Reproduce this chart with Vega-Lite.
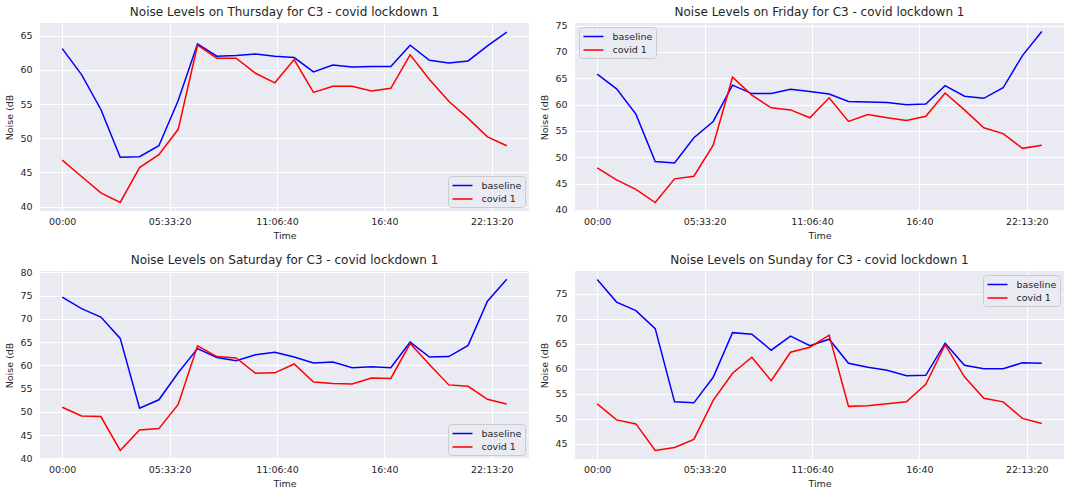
{
  "$schema": "https://vega.github.io/schema/vega-lite/v6.json",
  "background": "white",
  "padding": {"left": 4, "top": 5, "right": 5, "bottom": 4},
  "data": {
    "values": [
      {"day": "Thursday", "t": 0, "series": "baseline", "noise": 63.1},
      {"day": "Thursday", "t": 3600, "series": "baseline", "noise": 59.3},
      {"day": "Thursday", "t": 7200, "series": "baseline", "noise": 54.2},
      {"day": "Thursday", "t": 10800, "series": "baseline", "noise": 47.2},
      {"day": "Thursday", "t": 14400, "series": "baseline", "noise": 47.3},
      {"day": "Thursday", "t": 18000, "series": "baseline", "noise": 48.9},
      {"day": "Thursday", "t": 21600, "series": "baseline", "noise": 55.5},
      {"day": "Thursday", "t": 25200, "series": "baseline", "noise": 63.8},
      {"day": "Thursday", "t": 28800, "series": "baseline", "noise": 62.0},
      {"day": "Thursday", "t": 32400, "series": "baseline", "noise": 62.1},
      {"day": "Thursday", "t": 36000, "series": "baseline", "noise": 62.3},
      {"day": "Thursday", "t": 39600, "series": "baseline", "noise": 62.0},
      {"day": "Thursday", "t": 43200, "series": "baseline", "noise": 61.8},
      {"day": "Thursday", "t": 46800, "series": "baseline", "noise": 59.7},
      {"day": "Thursday", "t": 50400, "series": "baseline", "noise": 60.7},
      {"day": "Thursday", "t": 54000, "series": "baseline", "noise": 60.4},
      {"day": "Thursday", "t": 57600, "series": "baseline", "noise": 60.5},
      {"day": "Thursday", "t": 61200, "series": "baseline", "noise": 60.5},
      {"day": "Thursday", "t": 64800, "series": "baseline", "noise": 63.6},
      {"day": "Thursday", "t": 68400, "series": "baseline", "noise": 61.4},
      {"day": "Thursday", "t": 72000, "series": "baseline", "noise": 61.0},
      {"day": "Thursday", "t": 75600, "series": "baseline", "noise": 61.3},
      {"day": "Thursday", "t": 79200, "series": "baseline", "noise": 63.5},
      {"day": "Thursday", "t": 82800, "series": "baseline", "noise": 65.5},
      {"day": "Thursday", "t": 0, "series": "covid 1", "noise": 46.8},
      {"day": "Thursday", "t": 3600, "series": "covid 1", "noise": 44.4},
      {"day": "Thursday", "t": 7200, "series": "covid 1", "noise": 42.0},
      {"day": "Thursday", "t": 10800, "series": "covid 1", "noise": 40.6},
      {"day": "Thursday", "t": 14400, "series": "covid 1", "noise": 45.7},
      {"day": "Thursday", "t": 18000, "series": "covid 1", "noise": 47.6},
      {"day": "Thursday", "t": 21600, "series": "covid 1", "noise": 51.3},
      {"day": "Thursday", "t": 25200, "series": "covid 1", "noise": 63.6},
      {"day": "Thursday", "t": 28800, "series": "covid 1", "noise": 61.7},
      {"day": "Thursday", "t": 32400, "series": "covid 1", "noise": 61.7},
      {"day": "Thursday", "t": 36000, "series": "covid 1", "noise": 59.5},
      {"day": "Thursday", "t": 39600, "series": "covid 1", "noise": 58.1},
      {"day": "Thursday", "t": 43200, "series": "covid 1", "noise": 61.5},
      {"day": "Thursday", "t": 46800, "series": "covid 1", "noise": 56.7},
      {"day": "Thursday", "t": 50400, "series": "covid 1", "noise": 57.6},
      {"day": "Thursday", "t": 54000, "series": "covid 1", "noise": 57.6},
      {"day": "Thursday", "t": 57600, "series": "covid 1", "noise": 56.9},
      {"day": "Thursday", "t": 61200, "series": "covid 1", "noise": 57.3},
      {"day": "Thursday", "t": 64800, "series": "covid 1", "noise": 62.2},
      {"day": "Thursday", "t": 68400, "series": "covid 1", "noise": 58.6},
      {"day": "Thursday", "t": 72000, "series": "covid 1", "noise": 55.4},
      {"day": "Thursday", "t": 75600, "series": "covid 1", "noise": 52.9},
      {"day": "Thursday", "t": 79200, "series": "covid 1", "noise": 50.2},
      {"day": "Thursday", "t": 82800, "series": "covid 1", "noise": 48.9},
      {"day": "Friday", "t": 0, "series": "baseline", "noise": 65.8},
      {"day": "Friday", "t": 3600, "series": "baseline", "noise": 63.0},
      {"day": "Friday", "t": 7200, "series": "baseline", "noise": 58.2},
      {"day": "Friday", "t": 10800, "series": "baseline", "noise": 49.2},
      {"day": "Friday", "t": 14400, "series": "baseline", "noise": 48.9},
      {"day": "Friday", "t": 18000, "series": "baseline", "noise": 53.7},
      {"day": "Friday", "t": 21600, "series": "baseline", "noise": 56.8},
      {"day": "Friday", "t": 25200, "series": "baseline", "noise": 63.7},
      {"day": "Friday", "t": 28800, "series": "baseline", "noise": 62.1},
      {"day": "Friday", "t": 32400, "series": "baseline", "noise": 62.1},
      {"day": "Friday", "t": 36000, "series": "baseline", "noise": 62.9},
      {"day": "Friday", "t": 39600, "series": "baseline", "noise": 62.5},
      {"day": "Friday", "t": 43200, "series": "baseline", "noise": 62.0},
      {"day": "Friday", "t": 46800, "series": "baseline", "noise": 60.6},
      {"day": "Friday", "t": 50400, "series": "baseline", "noise": 60.5},
      {"day": "Friday", "t": 54000, "series": "baseline", "noise": 60.4},
      {"day": "Friday", "t": 57600, "series": "baseline", "noise": 60.0},
      {"day": "Friday", "t": 61200, "series": "baseline", "noise": 60.1},
      {"day": "Friday", "t": 64800, "series": "baseline", "noise": 63.6},
      {"day": "Friday", "t": 68400, "series": "baseline", "noise": 61.6},
      {"day": "Friday", "t": 72000, "series": "baseline", "noise": 61.2},
      {"day": "Friday", "t": 75600, "series": "baseline", "noise": 63.2},
      {"day": "Friday", "t": 79200, "series": "baseline", "noise": 69.3},
      {"day": "Friday", "t": 82800, "series": "baseline", "noise": 73.9},
      {"day": "Friday", "t": 0, "series": "covid 1", "noise": 48.0},
      {"day": "Friday", "t": 3600, "series": "covid 1", "noise": 45.7},
      {"day": "Friday", "t": 7200, "series": "covid 1", "noise": 43.9},
      {"day": "Friday", "t": 10800, "series": "covid 1", "noise": 41.4},
      {"day": "Friday", "t": 14400, "series": "covid 1", "noise": 45.9},
      {"day": "Friday", "t": 18000, "series": "covid 1", "noise": 46.4},
      {"day": "Friday", "t": 21600, "series": "covid 1", "noise": 52.3},
      {"day": "Friday", "t": 25200, "series": "covid 1", "noise": 65.2},
      {"day": "Friday", "t": 28800, "series": "covid 1", "noise": 61.8},
      {"day": "Friday", "t": 32400, "series": "covid 1", "noise": 59.4},
      {"day": "Friday", "t": 36000, "series": "covid 1", "noise": 59.0},
      {"day": "Friday", "t": 39600, "series": "covid 1", "noise": 57.5},
      {"day": "Friday", "t": 43200, "series": "covid 1", "noise": 61.3},
      {"day": "Friday", "t": 46800, "series": "covid 1", "noise": 56.8},
      {"day": "Friday", "t": 50400, "series": "covid 1", "noise": 58.1},
      {"day": "Friday", "t": 54000, "series": "covid 1", "noise": 57.5},
      {"day": "Friday", "t": 57600, "series": "covid 1", "noise": 57.0},
      {"day": "Friday", "t": 61200, "series": "covid 1", "noise": 57.8},
      {"day": "Friday", "t": 64800, "series": "covid 1", "noise": 62.2},
      {"day": "Friday", "t": 68400, "series": "covid 1", "noise": 59.0},
      {"day": "Friday", "t": 72000, "series": "covid 1", "noise": 55.6},
      {"day": "Friday", "t": 75600, "series": "covid 1", "noise": 54.5},
      {"day": "Friday", "t": 79200, "series": "covid 1", "noise": 51.7},
      {"day": "Friday", "t": 82800, "series": "covid 1", "noise": 52.3},
      {"day": "Saturday", "t": 0, "series": "baseline", "noise": 74.7},
      {"day": "Saturday", "t": 3600, "series": "baseline", "noise": 72.2},
      {"day": "Saturday", "t": 7200, "series": "baseline", "noise": 70.4},
      {"day": "Saturday", "t": 10800, "series": "baseline", "noise": 65.8},
      {"day": "Saturday", "t": 14400, "series": "baseline", "noise": 50.8},
      {"day": "Saturday", "t": 18000, "series": "baseline", "noise": 52.6},
      {"day": "Saturday", "t": 21600, "series": "baseline", "noise": 58.4},
      {"day": "Saturday", "t": 25200, "series": "baseline", "noise": 63.6},
      {"day": "Saturday", "t": 28800, "series": "baseline", "noise": 61.7},
      {"day": "Saturday", "t": 32400, "series": "baseline", "noise": 61.0},
      {"day": "Saturday", "t": 36000, "series": "baseline", "noise": 62.3},
      {"day": "Saturday", "t": 39600, "series": "baseline", "noise": 62.8},
      {"day": "Saturday", "t": 43200, "series": "baseline", "noise": 61.8},
      {"day": "Saturday", "t": 46800, "series": "baseline", "noise": 60.5},
      {"day": "Saturday", "t": 50400, "series": "baseline", "noise": 60.7},
      {"day": "Saturday", "t": 54000, "series": "baseline", "noise": 59.5},
      {"day": "Saturday", "t": 57600, "series": "baseline", "noise": 59.7},
      {"day": "Saturday", "t": 61200, "series": "baseline", "noise": 59.5},
      {"day": "Saturday", "t": 64800, "series": "baseline", "noise": 65.0},
      {"day": "Saturday", "t": 68400, "series": "baseline", "noise": 61.8},
      {"day": "Saturday", "t": 72000, "series": "baseline", "noise": 61.9},
      {"day": "Saturday", "t": 75600, "series": "baseline", "noise": 64.3},
      {"day": "Saturday", "t": 79200, "series": "baseline", "noise": 73.8},
      {"day": "Saturday", "t": 82800, "series": "baseline", "noise": 78.5},
      {"day": "Saturday", "t": 0, "series": "covid 1", "noise": 51.0},
      {"day": "Saturday", "t": 3600, "series": "covid 1", "noise": 49.1},
      {"day": "Saturday", "t": 7200, "series": "covid 1", "noise": 49.0},
      {"day": "Saturday", "t": 10800, "series": "covid 1", "noise": 41.7},
      {"day": "Saturday", "t": 14400, "series": "covid 1", "noise": 46.1},
      {"day": "Saturday", "t": 18000, "series": "covid 1", "noise": 46.4},
      {"day": "Saturday", "t": 21600, "series": "covid 1", "noise": 51.6},
      {"day": "Saturday", "t": 25200, "series": "covid 1", "noise": 64.2},
      {"day": "Saturday", "t": 28800, "series": "covid 1", "noise": 61.9},
      {"day": "Saturday", "t": 32400, "series": "covid 1", "noise": 61.6},
      {"day": "Saturday", "t": 36000, "series": "covid 1", "noise": 58.3},
      {"day": "Saturday", "t": 39600, "series": "covid 1", "noise": 58.4},
      {"day": "Saturday", "t": 43200, "series": "covid 1", "noise": 60.3},
      {"day": "Saturday", "t": 46800, "series": "covid 1", "noise": 56.4},
      {"day": "Saturday", "t": 50400, "series": "covid 1", "noise": 56.1},
      {"day": "Saturday", "t": 54000, "series": "covid 1", "noise": 56.0},
      {"day": "Saturday", "t": 57600, "series": "covid 1", "noise": 57.3},
      {"day": "Saturday", "t": 61200, "series": "covid 1", "noise": 57.2},
      {"day": "Saturday", "t": 64800, "series": "covid 1", "noise": 64.7},
      {"day": "Saturday", "t": 68400, "series": "covid 1", "noise": 60.2},
      {"day": "Saturday", "t": 72000, "series": "covid 1", "noise": 55.8},
      {"day": "Saturday", "t": 75600, "series": "covid 1", "noise": 55.5},
      {"day": "Saturday", "t": 79200, "series": "covid 1", "noise": 52.7},
      {"day": "Saturday", "t": 82800, "series": "covid 1", "noise": 51.7},
      {"day": "Sunday", "t": 0, "series": "baseline", "noise": 77.8},
      {"day": "Sunday", "t": 3600, "series": "baseline", "noise": 73.3},
      {"day": "Sunday", "t": 7200, "series": "baseline", "noise": 71.6},
      {"day": "Sunday", "t": 10800, "series": "baseline", "noise": 68.0},
      {"day": "Sunday", "t": 14400, "series": "baseline", "noise": 53.4},
      {"day": "Sunday", "t": 18000, "series": "baseline", "noise": 53.2},
      {"day": "Sunday", "t": 21600, "series": "baseline", "noise": 58.3},
      {"day": "Sunday", "t": 25200, "series": "baseline", "noise": 67.2},
      {"day": "Sunday", "t": 28800, "series": "baseline", "noise": 66.9},
      {"day": "Sunday", "t": 32400, "series": "baseline", "noise": 63.7},
      {"day": "Sunday", "t": 36000, "series": "baseline", "noise": 66.5},
      {"day": "Sunday", "t": 39600, "series": "baseline", "noise": 64.6},
      {"day": "Sunday", "t": 43200, "series": "baseline", "noise": 65.9},
      {"day": "Sunday", "t": 46800, "series": "baseline", "noise": 61.1},
      {"day": "Sunday", "t": 50400, "series": "baseline", "noise": 60.3},
      {"day": "Sunday", "t": 54000, "series": "baseline", "noise": 59.7},
      {"day": "Sunday", "t": 57600, "series": "baseline", "noise": 58.6},
      {"day": "Sunday", "t": 61200, "series": "baseline", "noise": 58.7},
      {"day": "Sunday", "t": 64800, "series": "baseline", "noise": 65.1},
      {"day": "Sunday", "t": 68400, "series": "baseline", "noise": 60.7},
      {"day": "Sunday", "t": 72000, "series": "baseline", "noise": 60.0},
      {"day": "Sunday", "t": 75600, "series": "baseline", "noise": 60.0},
      {"day": "Sunday", "t": 79200, "series": "baseline", "noise": 61.2},
      {"day": "Sunday", "t": 82800, "series": "baseline", "noise": 61.1},
      {"day": "Sunday", "t": 0, "series": "covid 1", "noise": 53.0},
      {"day": "Sunday", "t": 3600, "series": "covid 1", "noise": 49.8},
      {"day": "Sunday", "t": 7200, "series": "covid 1", "noise": 49.0},
      {"day": "Sunday", "t": 10800, "series": "covid 1", "noise": 43.7},
      {"day": "Sunday", "t": 14400, "series": "covid 1", "noise": 44.3},
      {"day": "Sunday", "t": 18000, "series": "covid 1", "noise": 45.9},
      {"day": "Sunday", "t": 21600, "series": "covid 1", "noise": 53.7},
      {"day": "Sunday", "t": 25200, "series": "covid 1", "noise": 59.1},
      {"day": "Sunday", "t": 28800, "series": "covid 1", "noise": 62.3},
      {"day": "Sunday", "t": 32400, "series": "covid 1", "noise": 57.6},
      {"day": "Sunday", "t": 36000, "series": "covid 1", "noise": 63.3},
      {"day": "Sunday", "t": 39600, "series": "covid 1", "noise": 64.3},
      {"day": "Sunday", "t": 43200, "series": "covid 1", "noise": 66.7},
      {"day": "Sunday", "t": 46800, "series": "covid 1", "noise": 52.5},
      {"day": "Sunday", "t": 50400, "series": "covid 1", "noise": 52.6},
      {"day": "Sunday", "t": 54000, "series": "covid 1", "noise": 53.0},
      {"day": "Sunday", "t": 57600, "series": "covid 1", "noise": 53.4},
      {"day": "Sunday", "t": 61200, "series": "covid 1", "noise": 56.9},
      {"day": "Sunday", "t": 64800, "series": "covid 1", "noise": 64.8},
      {"day": "Sunday", "t": 68400, "series": "covid 1", "noise": 58.4},
      {"day": "Sunday", "t": 72000, "series": "covid 1", "noise": 54.1},
      {"day": "Sunday", "t": 75600, "series": "covid 1", "noise": 53.4},
      {"day": "Sunday", "t": 79200, "series": "covid 1", "noise": 50.1},
      {"day": "Sunday", "t": 82800, "series": "covid 1", "noise": 49.1}
    ]
  },
  "columns": 2,
  "bounds": "flush",
  "spacing": {"row": 60, "column": 46},
  "concat": [
    {
      "title": {"text": "Noise Levels on Thursday for C3 - covid lockdown 1", "offset": 4},
      "width": 489,
      "height": 188,
      "transform": [{"filter": "datum.day == 'Thursday'"}],
      "mark": {"type": "line", "strokeWidth": 1.5},
      "encoding": {
        "x": {"field": "t", "type": "quantitative", "title": "Time",
          "scale": {"domain": [-4140, 86940], "nice": false, "zero": false},
          "axis": {"values": [0, 20000, 40000, 60000, 80000],
            "labelExpr": "slice('0' + floor(datum.value / 3600), -2) + ':' + slice('0' + floor(datum.value % 3600 / 60), -2) + (datum.value % 60 > 0 ? ':' + slice('0' + datum.value % 60, -2) : '')"}},
        "y": {"field": "noise", "type": "quantitative", "title": "Noise (dB",
          "scale": {"domain": [39.35, 66.85], "nice": false, "zero": false},
          "axis": {"values": [40, 45, 50, 55, 60, 65]}},
        "color": {"field": "series", "type": "nominal",
          "scale": {"domain": ["baseline", "covid 1"], "range": ["#0000ff", "#ff0000"]},
          "legend": {"title": null, "orient": "bottom-right"}}
      }
    },
    {
      "title": {"text": "Noise Levels on Friday for C3 - covid lockdown 1", "offset": 1.9},
      "width": 489,
      "height": 188,
      "transform": [{"filter": "datum.day == 'Friday'"}],
      "mark": {"type": "line", "strokeWidth": 1.5},
      "encoding": {
        "x": {"field": "t", "type": "quantitative", "title": "Time",
          "scale": {"domain": [-4140, 86940], "nice": false, "zero": false},
          "axis": {"values": [0, 20000, 40000, 60000, 80000],
            "labelExpr": "slice('0' + floor(datum.value / 3600), -2) + ':' + slice('0' + floor(datum.value % 3600 / 60), -2) + (datum.value % 60 > 0 ? ':' + slice('0' + datum.value % 60, -2) : '')"}},
        "y": {"field": "noise", "type": "quantitative", "title": "Noise (dB",
          "scale": {"domain": [39.8, 75.5], "nice": false, "zero": false},
          "axis": {"values": [40, 45, 50, 55, 60, 65, 70, 75]}},
        "color": {"field": "series", "type": "nominal",
          "scale": {"domain": ["baseline", "covid 1"], "range": ["#0000ff", "#ff0000"]},
          "legend": {"title": null, "orient": "top-left"}}
      }
    },
    {
      "title": {"text": "Noise Levels on Saturday for C3 - covid lockdown 1", "offset": 0.6},
      "width": 489,
      "height": 188,
      "transform": [{"filter": "datum.day == 'Saturday'"}],
      "mark": {"type": "line", "strokeWidth": 1.5},
      "encoding": {
        "x": {"field": "t", "type": "quantitative", "title": "Time",
          "scale": {"domain": [-4140, 86940], "nice": false, "zero": false},
          "axis": {"values": [0, 20000, 40000, 60000, 80000],
            "labelExpr": "slice('0' + floor(datum.value / 3600), -2) + ':' + slice('0' + floor(datum.value % 3600 / 60), -2) + (datum.value % 60 > 0 ? ':' + slice('0' + datum.value % 60, -2) : '')"}},
        "y": {"field": "noise", "type": "quantitative", "title": "Noise (dB",
          "scale": {"domain": [39.86, 80.3], "nice": false, "zero": false},
          "axis": {"values": [40, 45, 50, 55, 60, 65, 70, 75, 80]}},
        "color": {"field": "series", "type": "nominal",
          "scale": {"domain": ["baseline", "covid 1"], "range": ["#0000ff", "#ff0000"]},
          "legend": {"title": null, "orient": "bottom-right"}}
      }
    },
    {
      "title": {"text": "Noise Levels on Sunday for C3 - covid lockdown 1", "offset": 4},
      "width": 489,
      "height": 188,
      "transform": [{"filter": "datum.day == 'Sunday'"}],
      "mark": {"type": "line", "strokeWidth": 1.5},
      "encoding": {
        "x": {"field": "t", "type": "quantitative", "title": "Time",
          "scale": {"domain": [-4140, 86940], "nice": false, "zero": false},
          "axis": {"values": [0, 20000, 40000, 60000, 80000],
            "labelExpr": "slice('0' + floor(datum.value / 3600), -2) + ':' + slice('0' + floor(datum.value % 3600 / 60), -2) + (datum.value % 60 > 0 ? ':' + slice('0' + datum.value % 60, -2) : '')"}},
        "y": {"field": "noise", "type": "quantitative", "title": "Noise (dB",
          "scale": {"domain": [42.0, 79.5], "nice": false, "zero": false},
          "axis": {"values": [45, 50, 55, 60, 65, 70, 75]}},
        "color": {"field": "series", "type": "nominal",
          "scale": {"domain": ["baseline", "covid 1"], "range": ["#0000ff", "#ff0000"]},
          "legend": {"title": null, "orient": "top-right"}}
      }
    }
  ],
  "resolve": {
    "scale": {"x": "independent", "y": "independent", "color": "independent"},
    "axis": {"x": "independent", "y": "independent"},
    "legend": {"color": "independent"}
  },
  "config": {
    "font": "DejaVu Sans",
    "view": {"fill": "#eaeaf2", "stroke": null},
    "axis": {
      "grid": true,
      "gridColor": "white",
      "gridWidth": 1,
      "domain": false,
      "ticks": false,
      "labelFont": "DejaVu Sans",
      "labelFontSize": 9.5,
      "labelColor": "#262626",
      "titleFont": "DejaVu Sans",
      "titleFontSize": 9.5,
      "titleFontWeight": "normal",
      "titleColor": "#262626"
    },
    "axisX": {"labelPadding": 5, "titlePadding": 5, "labelFlush": false},
    "axisY": {"labelPadding": 8, "titlePadding": 5, "labelFlush": false},
    "title": {"font": "DejaVu Sans", "fontSize": 12, "fontWeight": "normal", "color": "#262626"},
    "legend": {
      "labelFont": "DejaVu Sans",
      "labelFontSize": 9.5,
      "labelColor": "#262626",
      "labelOffset": 18,
      "symbolType": "M-1,0H3",
      "symbolStrokeWidth": 1.5,
      "symbolSize": 100,
      "fillColor": "rgba(234,234,242,0.8)",
      "strokeColor": "#cccccc",
      "cornerRadius": 3,
      "padding": 3.5,
      "offset": 4,
      "rowPadding": 2.5
    }
  }
}
